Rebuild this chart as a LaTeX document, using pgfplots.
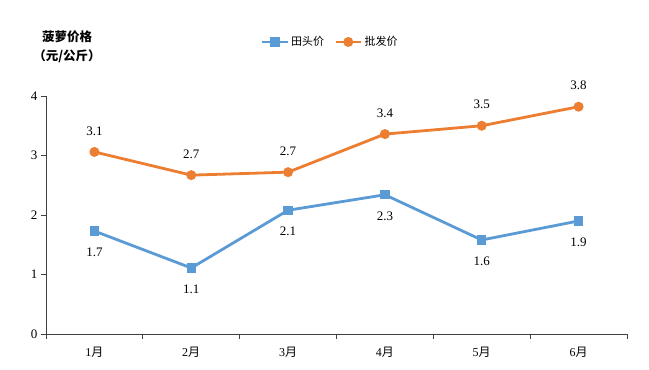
\documentclass[border=0pt]{standalone}
\usepackage{pgfplots}
\pgfplotsset{compat=1.18}
\usepackage{fontspec}
\setmainfont{Liberation Serif}
\newfontfamily\cjk{Noto Sans CJK SC}
\definecolor{cblue}{HTML}{5B9BD5}
\definecolor{corange}{HTML}{ED7D31}
\begin{document}
\begin{tikzpicture}[x=1pt,y=1pt]
\path[use as bounding box] (0,0) rectangle (649,370);
\begin{axis}[
  at={(46pt,36pt)}, anchor=south west,
  scale only axis, width=581pt, height=238pt,
  xmin=0.5, xmax=6.5, ymin=0, ymax=4,
  axis x line*=bottom, axis y line*=left,
  axis line style={draw=black!75, line width=0.9pt},
  xtick={1,2,3,4,5,6},
  xticklabels={{1\cjk 月},{2\cjk 月},{3\cjk 月},{4\cjk 月},{5\cjk 月},{6\cjk 月}},
  major x tick style={draw=none},
  minor xtick={0.5,1.5,2.5,3.5,4.5,5.5,6.5},
  minor x tick style={draw=black!75, line width=0.9pt},
  minor tick length=5pt,
  ytick={0,1,2,3,4},
  y tick style={draw=black!75, line width=0.9pt},
  major tick length=5pt,
  tick align=outside,
  /pgf/number format/assume math mode=true,
  tick label style={font=\fontsize{13}{14}\selectfont, text=black},
  xticklabel style={yshift=-5pt, font=\fontsize{12}{14}\selectfont},
  nodes near coords,
  nodes near coords style={font=\fontsize{13}{14}\selectfont, text=black,
    /pgf/number format/fixed, /pgf/number format/fixed zerofill,
    /pgf/number format/precision=1, /pgf/number format/assume math mode=true},
  legend style={at={(0.489,1.227)}, anchor=center, draw=none, fill=none,
    legend columns=2, font=\fontsize{11}{12}\selectfont\cjk,
    /tikz/every even column/.append style={column sep=8pt}},
  legend image code/.code={
    \draw[#1, mark repeat=2, mark phase=2] plot coordinates {(0cm,0cm) (0.45cm,0cm) (0.9cm,0cm)};},
  clip=false,
]
\addplot[color=cblue, line width=2.8pt, mark=square*, mark size=3.3pt,
  every node near coord/.append style={anchor=north, yshift=-12pt}]
  coordinates {(1,1.73) (2,1.11) (3,2.08) (4,2.34) (5,1.58) (6,1.90)};
\addlegendentry{田头价}
\addplot[color=corange, line width=2.8pt, mark=*, mark size=3.5pt,
  every node near coord/.append style={anchor=south, yshift=12pt}]
  coordinates {(1,3.06) (2,2.67) (3,2.72) (4,3.36) (5,3.50) (6,3.82)};
\addlegendentry{批发价}
\end{axis}
\node[font=\fontsize{12.5}{13}\selectfont\cjk\bfseries, anchor=center] at (67,333) {菠萝价格};
\node[font=\fontsize{12.5}{13}\selectfont\cjk\bfseries, anchor=center] at (67,314) {（元/公斤）};
\end{tikzpicture}
\end{document}
